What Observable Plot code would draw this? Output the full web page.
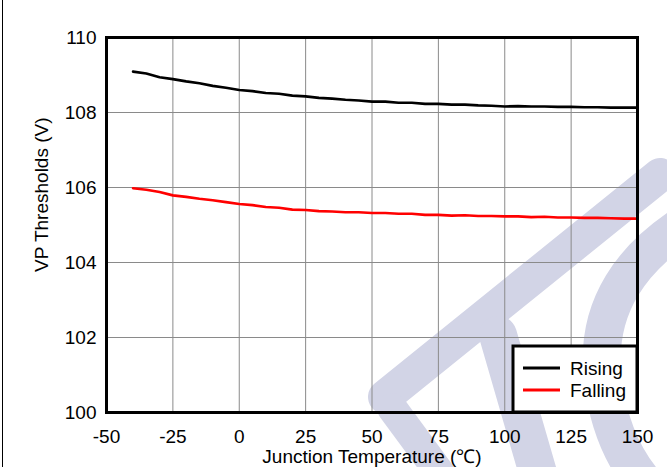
<!DOCTYPE html>
<html><head><meta charset="utf-8">
<script src="https://cdn.jsdelivr.net/npm/d3@7"></script>
<script src="https://cdn.jsdelivr.net/npm/@observablehq/plot@0.6"></script>
<style>
html,body{margin:0;padding:0;background:#fff;}
#wrap{position:relative;width:667px;height:467px;overflow:hidden;}
#wm{position:absolute;left:0;top:0;}
#chart{position:absolute;left:0;top:0;}
#edge{position:absolute;left:2px;top:0;width:1px;height:467px;background:#000;}
</style></head><body>
<div id="wrap">
<svg id="wm" width="667" height="467">
  <g fill="none" stroke="#d2d4e6" stroke-linecap="round">
    <path d="M660 175 L385 397" stroke-width="34"/>
    <path d="M392 408 L445 480" stroke-width="30"/>
    <path d="M498 335 L540 480" stroke-width="38"/>
    <path d="M705 212 Q590 275 603 380 Q610 440 642 480" stroke-width="38"/>
  </g>
</svg>
<div id="chart"></div><div id="edge"></div></div>
<script>
const temps = [-40,-35,-30,-25,-20,-15,-10,-5,0,5,10,15,20,25,30,35,40,45,50,55,60,65,70,75,80,85,90,95,100,105,110,115,120,125,130,135,140,145,150];
const rising = [109.09,109.04,108.94,108.89,108.83,108.78,108.71,108.66,108.60,108.57,108.52,108.50,108.45,108.43,108.39,108.37,108.34,108.32,108.29,108.29,108.26,108.26,108.23,108.23,108.21,108.21,108.19,108.18,108.16,108.17,108.16,108.16,108.15,108.15,108.14,108.14,108.13,108.13,108.13];
const falling = [105.98,105.94,105.88,105.79,105.75,105.70,105.66,105.61,105.56,105.53,105.48,105.46,105.41,105.40,105.37,105.36,105.34,105.34,105.32,105.32,105.30,105.30,105.27,105.27,105.25,105.26,105.24,105.24,105.23,105.23,105.21,105.22,105.20,105.20,105.19,105.19,105.18,105.17,105.17];
const xTicks = [-50,-25,0,25,50,75,100,125,150];
const yTicks = [100,102,104,106,108,110];
const seriesNames = ["Rising","Falling"];
const seriesColors = ["#000000","#ff0000"];
const xLabel = "Junction Temperature (℃)";
const yLabel = "VP Thresholds (V)";

const data = [];
seriesNames.forEach((s, k) => {
  const vals = k === 0 ? rising : falling;
  temps.forEach((t, i) => data.push({t, v: vals[i], s}));
});

const W = 667, H = 467, mL = 106, mR = 30, mT = 37, mB = 55;
const font = "'Liberation Sans', Arial, sans-serif";
const fmt = d => String(d);
const plot = Plot.plot({
  width: W, height: H, marginLeft: mL, marginRight: mR, marginTop: mT, marginBottom: mB,
  style: {background: "transparent", fontFamily: font, color: "#000"},
  x: {domain: [-50, 150], ticks: xTicks},
  y: {domain: [100, 110], ticks: yTicks},
  color: {domain: seriesNames, range: seriesColors},
  marks: [
    Plot.gridX(xTicks, {stroke: "#8a8a8a", strokeOpacity: 1, strokeWidth: 1}),
    Plot.gridY(yTicks, {stroke: "#8a8a8a", strokeOpacity: 1, strokeWidth: 1}),
    Plot.line(data, {x: "t", y: "v", z: "s", stroke: "s", strokeWidth: 2.6}),
    Plot.axisX(xTicks, {tickSize: 0, tickPadding: 17, fontSize: 19, label: null, tickFormat: fmt}),
    Plot.axisY(yTicks, {tickSize: 0, tickPadding: 10, fontSize: 19, label: null, tickFormat: fmt}),
    Plot.frame({stroke: "#000", strokeWidth: 3}),
    Plot.text([xLabel], {frameAnchor: "bottom", dy: 44, fontSize: 19, lineAnchor: "middle"}),
    Plot.text([yLabel], {frameAnchor: "left", dx: -65, dy: 47, rotate: -90, fontSize: 19, lineAnchor: "middle"})
  ]
});

// legend box in the lower-right corner of the frame
const svg = d3.select(plot);
const right = W - mR, bottom = H - mB, lw = 124, lh = 66;
const g = svg.append("g").attr("font-family", font).attr("font-size", 19).attr("text-anchor", "start");
g.append("rect").attr("x", right - lw).attr("y", bottom - lh).attr("width", lw).attr("height", lh)
  .attr("fill", "#fff").attr("stroke", "#000").attr("stroke-width", 3);
seriesNames.forEach((s, i) => {
  const yy = bottom - 44 + i * 22;
  g.append("line").attr("x1", right - 114).attr("x2", right - 77).attr("y1", yy).attr("y2", yy)
    .attr("stroke", seriesColors[i]).attr("stroke-width", 3);
  g.append("text").attr("x", right - 67).attr("y", yy).attr("dy", "0.35em")
    .attr("text-anchor", "start").attr("fill", "#000").text(s);
});

document.getElementById("chart").appendChild(plot);
</script>
</body></html>
